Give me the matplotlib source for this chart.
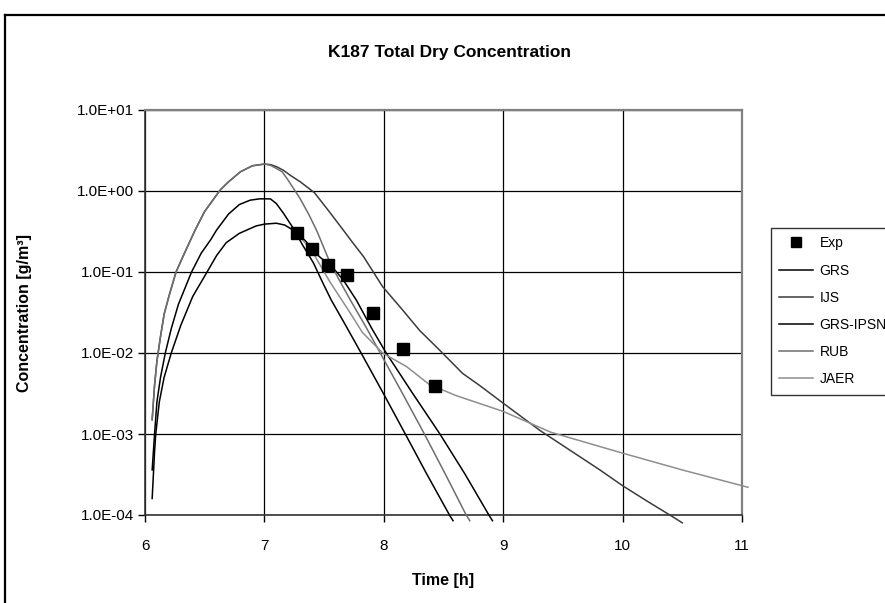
import numpy as np
import matplotlib.pyplot as plt
from matplotlib.ticker import FuncFormatter, NullLocator, FixedLocator
from matplotlib.lines import Line2D

plt.rcParams['font.family'] = ['Liberation Sans', 'DejaVu Sans']

# ---- data --------------------------------------------------------------
exp_t = [7.27, 7.40, 7.53, 7.69, 7.91, 8.16, 8.43]
exp_c = [0.30, 0.19, 0.122, 0.092, 0.031, 0.0111, 0.0039]

# peak ~0.8
grs_t = [6.06, 6.08, 6.10, 6.13, 6.17, 6.22, 6.28, 6.39, 6.47, 6.55, 6.60,
         6.70, 6.79, 6.88, 6.96, 7.05, 7.10, 7.16, 7.24, 7.32, 7.41, 7.49,
         7.56, 7.68, 7.81, 8.00, 8.18, 8.36, 8.55, 8.58]
grs_c = [0.00036, 0.001, 0.0025, 0.005, 0.01, 0.02, 0.04, 0.1, 0.17, 0.25,
         0.33, 0.52, 0.68, 0.77, 0.80, 0.80, 0.70, 0.53, 0.35, 0.215, 0.13,
         0.073, 0.045, 0.022, 0.010, 0.0031, 0.001, 0.00032, 0.0001, 0.000085]

# peak ~2.1, slow tail
ijs_t = [6.06, 6.08, 6.10, 6.13, 6.16, 6.20, 6.26, 6.33, 6.42, 6.50, 6.63,
         6.70, 6.80, 6.90, 7.00, 7.05, 7.10, 7.16, 7.22, 7.30, 7.42, 7.55,
         7.66, 7.75, 7.83, 7.99, 8.15, 8.30, 8.45, 8.66, 8.80, 9.00, 9.20,
         9.31, 9.50, 9.81, 10.00, 10.20, 10.42, 10.50]
ijs_c = [0.0015, 0.004, 0.008, 0.016, 0.03, 0.05, 0.10, 0.17, 0.33, 0.56,
         1.03, 1.3, 1.73, 2.05, 2.15, 2.12, 2.0, 1.8, 1.55, 1.3, 0.95, 0.54,
         0.33, 0.22, 0.155, 0.066, 0.035, 0.019, 0.0115, 0.0056, 0.0040,
         0.0024, 0.00145, 0.0011, 0.00072, 0.00036, 0.00023, 0.00015,
         0.000095, 0.00008]

# peak ~0.4
ipsn_t = [6.06, 6.08, 6.09, 6.12, 6.16, 6.22, 6.30, 6.40, 6.52, 6.60, 6.68,
          6.79, 6.93, 7.00, 7.10, 7.17, 7.24, 7.30, 7.35, 7.46, 7.58, 7.66,
          7.77, 7.90, 8.02, 8.24, 8.47, 8.68, 8.88, 8.91]
ipsn_c = [0.00016, 0.0006, 0.001, 0.0025, 0.005, 0.01, 0.022, 0.05, 0.10,
          0.16, 0.23, 0.30, 0.37, 0.39, 0.40, 0.38, 0.33, 0.28, 0.237, 0.155,
          0.11, 0.08, 0.045, 0.02, 0.010, 0.0032, 0.001, 0.00032, 0.0001,
          0.000085]

# peak ~2.1, fast tail
rub_t = [6.06, 6.08, 6.10, 6.13, 6.16, 6.20, 6.26, 6.33, 6.42, 6.50, 6.63,
         6.70, 6.80, 6.90, 7.00, 7.05, 7.10, 7.15, 7.20, 7.27, 7.30, 7.37,
         7.44, 7.55, 7.63, 7.72, 7.85, 7.97, 8.15, 8.34, 8.52, 8.69, 8.72]
rub_c = [0.0015, 0.004, 0.008, 0.016, 0.03, 0.05, 0.10, 0.17, 0.33, 0.56,
         1.03, 1.3, 1.73, 2.05, 2.15, 2.08, 1.9, 1.72, 1.35, 0.94, 0.80, 0.52,
         0.32, 0.13, 0.078, 0.045, 0.021, 0.010, 0.0033, 0.001, 0.00031,
         0.0001, 0.000085]

jaer_t = [7.27, 7.41, 7.55, 7.72, 7.82, 7.99, 8.19, 8.38, 8.60, 9.00, 9.40,
          10.00, 10.50, 11.05]
jaer_c = [0.31, 0.17, 0.075, 0.031, 0.018, 0.010, 0.0068, 0.0041, 0.0030,
          0.0019, 0.00105, 0.00058, 0.00036, 0.00022]

series = [
    ("GRS", grs_t, grs_c, "#000000"),
    ("IJS", ijs_t, ijs_c, "#3c3c3c"),
    ("GRS-IPSN", ipsn_t, ipsn_c, "#000000"),
    ("RUB", rub_t, rub_c, "#6e6e6e"),
    ("JAER", jaer_t, jaer_c, "#8e8e8e"),
]

# ---- plot --------------------------------------------------------------
fig = plt.figure(figsize=(8.85, 6.03), dpi=100)
ax = fig.add_axes([145 / 885, 1 - 515 / 603, 597 / 885, 405 / 603])

ax.plot(exp_t, exp_c, ls="none", marker="s", ms=8.5, color="black",
        label="Exp", zorder=5)
for name, t, c, col in series:
    ax.plot(t, c, color=col, lw=1.1, label=name, clip_on=False, zorder=3)

ax.set_yscale("log")
ax.set_xlim(6, 11)
ax.set_ylim(1e-4, 1e1)
ax.xaxis.set_major_locator(FixedLocator([6, 7, 8, 9, 10, 11]))
ax.yaxis.set_major_locator(FixedLocator([1e-4, 1e-3, 1e-2, 1e-1, 1e0, 1e1]))
ax.yaxis.set_minor_locator(NullLocator())
ax.yaxis.set_major_formatter(FuncFormatter(lambda v, p: f"{v:.1E}"))
ax.tick_params(direction="out", length=5, width=1, labelsize=11,
               color="black", pad=3)
ax.tick_params(axis="x", pad=12)
ax.grid(True, color="black", lw=0.9)
ax.set_axisbelow(True)

for side in ("top", "right"):
    ax.spines[side].set_color("#808080")
    ax.spines[side].set_linewidth(1.6)
for side in ("left", "bottom"):
    ax.spines[side].set_color("#333333")
    ax.spines[side].set_linewidth(1.2)

ax.set_xlabel("Time [h]", fontsize=11.5, fontweight="bold")
ax.xaxis.set_label_coords(0.5, -0.143)
ax.set_ylabel("Concentration [g/m³]", fontsize=11.5, fontweight="bold")
ax.yaxis.set_label_coords(-0.19, 0.5)

fig.text(450 / 885, 1 - 52 / 603, "K187 Total Dry Concentration",
         ha="center", va="center", fontsize=12.5, fontweight="bold")

leg = ax.legend(loc="upper left", bbox_to_anchor=(771 / 885, 1 - 228 / 603),
                bbox_transform=fig.transFigure, borderaxespad=0,
                fontsize=10, frameon=True, fancybox=False, edgecolor="black",
                handlelength=2.4, handletextpad=0.5, labelspacing=0.95,
                borderpad=0.6, markerscale=0.8)
leg.get_frame().set_linewidth(1.0)

# outer chart border
fig.add_artist(Line2D([5 / 885, 5 / 885], [0, 1 - 15 / 603], color="black",
                      lw=1.6, transform=fig.transFigure))
fig.add_artist(Line2D([5 / 885, 1], [1 - 15 / 603, 1 - 15 / 603],
                      color="black", lw=1.6, transform=fig.transFigure))

fig.savefig("out.png", dpi=100)
